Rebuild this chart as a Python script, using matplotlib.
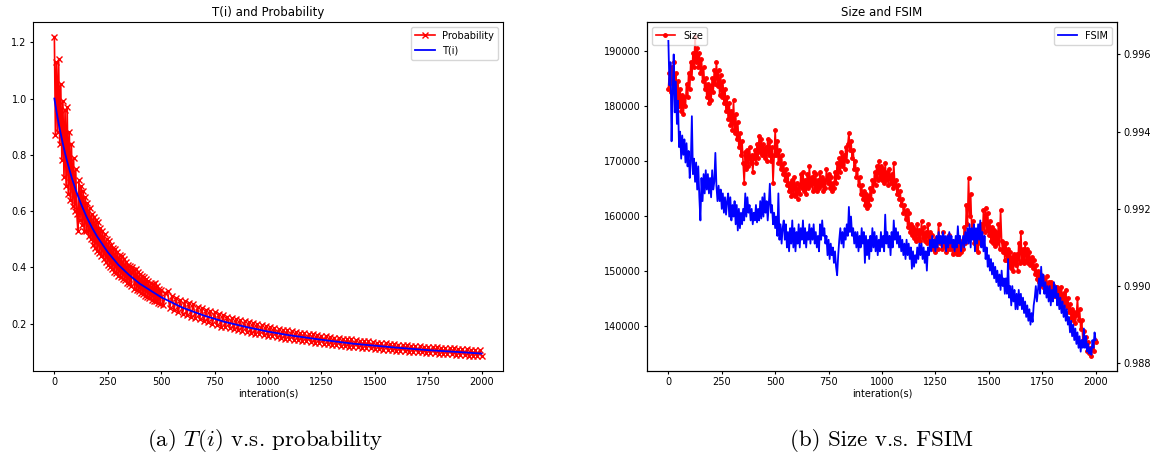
import numpy as np
import matplotlib
matplotlib.use("Agg")
import matplotlib.pyplot as plt

plt.rcParams['mathtext.fontset'] = 'cm'

# T(i) curve, read at a few iterations
t_iter = [0, 10, 20, 30, 40, 50, 60, 80, 100, 125, 150, 175, 200, 250, 300, 350, 400,
          500, 600, 700, 800, 900, 1000, 1100, 1250, 1400, 1500, 1600, 1750, 1900, 2000]
t_vals = [1.000, 0.954, 0.912, 0.874, 0.839, 0.806, 0.776, 0.722, 0.675, 0.625, 0.581,
          0.543, 0.510, 0.454, 0.409, 0.373, 0.342, 0.294, 0.257, 0.229, 0.206, 0.188,
          0.172, 0.159, 0.143, 0.129, 0.122, 0.115, 0.106, 0.099, 0.094]

# probability, every 5 iterations up to 495
prob_early = [
    1.22, 0.87, 1.13, 0.88, 1.14, 0.84, 1.05, 0.78, 0.99, 0.72,
    0.96, 0.69, 0.97, 0.66, 0.88, 0.64, 0.84, 0.62, 0.79, 0.60,
    0.75, 0.59, 0.53, 0.71, 0.57, 0.69, 0.55, 0.67, 0.53, 0.65,
    0.53, 0.63, 0.51, 0.61, 0.50, 0.59, 0.48, 0.58, 0.47, 0.57,
    0.46, 0.56, 0.45, 0.54, 0.44, 0.53, 0.43, 0.52, 0.42, 0.50,
    0.41, 0.495, 0.40, 0.48, 0.395, 0.47, 0.385, 0.465, 0.38, 0.455,
    0.37, 0.445, 0.365, 0.44, 0.36, 0.43, 0.355, 0.42, 0.345, 0.41,
    0.34, 0.405, 0.335, 0.40, 0.39, 0.325, 0.395, 0.32, 0.385, 0.315,
    0.375, 0.31, 0.37, 0.305, 0.365, 0.30, 0.36, 0.295, 0.35, 0.29,
    0.345, 0.285, 0.34, 0.28, 0.345, 0.28, 0.335, 0.275, 0.325, 0.27]
# probability, every 10 iterations from 500
prob_late = [
    0.32, 0.265, 0.31, 0.315, 0.255, 0.30, 0.25, 0.29, 0.24, 0.285,
    0.235, 0.28, 0.23, 0.275, 0.225, 0.27, 0.22, 0.26, 0.215, 0.255,
    0.21, 0.25, 0.205, 0.245, 0.20, 0.24, 0.195, 0.235, 0.19, 0.23,
    0.187, 0.225, 0.185, 0.22, 0.18, 0.215, 0.178, 0.212, 0.173, 0.208,
    0.17, 0.205, 0.167, 0.202, 0.164, 0.198, 0.162, 0.195, 0.159, 0.191,
    0.157, 0.188, 0.155, 0.185, 0.152, 0.182, 0.15, 0.179, 0.147, 0.176,
    0.145, 0.174, 0.143, 0.171, 0.141, 0.168, 0.139, 0.166, 0.137, 0.164,
    0.135, 0.162, 0.133, 0.16, 0.131, 0.158, 0.129, 0.156, 0.128, 0.154,
    0.126, 0.151, 0.124, 0.149, 0.122, 0.147, 0.121, 0.146, 0.119, 0.144,
    0.118, 0.142, 0.117, 0.14, 0.115, 0.138, 0.114, 0.137, 0.112, 0.135,
    0.111, 0.133, 0.109, 0.132, 0.108, 0.13, 0.107, 0.129, 0.105, 0.128,
    0.104, 0.126, 0.103, 0.125, 0.102, 0.124, 0.101, 0.122, 0.10, 0.121,
    0.099, 0.12, 0.098, 0.119, 0.097, 0.118, 0.096, 0.117, 0.095, 0.116,
    0.094, 0.115, 0.093, 0.114, 0.092, 0.113, 0.091, 0.112, 0.09, 0.111,
    0.089, 0.11, 0.088, 0.109, 0.087, 0.108, 0.086, 0.107, 0.085, 0.106,
    0.084]

# size and FSIM, every 5 iterations
size_vals = [
    183000, 186000, 182500, 187000, 184000, 188000,
    183500, 186000, 181000, 184500, 180000, 183000, 179000, 182000, 178500, 181500,
    180000, 184000, 181500, 186000, 183000, 188000, 185000, 189500, 187000, 192500,
    188000, 190500, 187000, 189500, 186000, 188500, 184500, 187000, 183000, 185000,
    181500, 184000, 180500, 183500, 181000, 185000, 182500, 186500, 184000, 188000,
    183500, 186500, 182000, 185500, 181500, 184500, 180500, 183000, 179000, 181500,
    177500, 180500, 176500, 179000, 175500, 181000, 175000, 178500, 174000, 177000,
    172500, 175000, 171000, 173500, 169500, 166000, 171500, 168500, 172000, 169000,
    172500, 169500, 171000, 168000, 170500, 172000, 169500, 173000, 170500, 174500,
    171500, 174000, 171000, 173000, 170500, 172500, 170000, 174000, 171000, 173500,
    170000, 172500, 166000, 171000, 175500, 171000, 173500, 169500, 172000, 168500,
    171000, 167500, 169500, 166500, 168500, 165500, 167500, 164500, 166000, 163500,
    166500, 164000, 167000, 163500, 166000, 163000, 165500, 164000, 167500, 165000,
    168000, 164500, 166500, 164000, 167500, 165000, 169000, 165500, 167000, 164500,
    168000, 165000, 167500, 164500, 166500, 165000, 168000, 165500, 167000, 164500,
    166500, 165000, 168500, 166000, 167500, 165000, 167000, 164500, 166000, 165000,
    168000, 166000, 169500, 167000, 170500, 168000, 171500, 169000, 171000, 168500,
    172500, 170000, 173000, 175000, 172000, 173500, 170500, 172000, 168500, 170000,
    167000, 168500, 165500, 167000, 164000, 165500, 163000, 164500, 162000, 164000,
    161500, 163500, 162000, 165000, 163000, 166500, 164500, 168000, 165500, 169000,
    166500, 170000, 167000, 169000, 166500, 168500, 166000, 169500, 166500, 168000,
    165500, 168500, 166000, 167500, 165000, 169500, 165500, 166500, 164000, 165500,
    163000, 164500, 162000, 163000, 160500, 162000, 159500, 161000, 158000, 160500,
    157000, 158500, 156500, 158000, 156000, 157500, 155500, 158500, 156000, 157500,
    155500, 159000, 156000, 158000, 155500, 157000, 155000, 158500, 155500, 157000,
    154500, 156500, 154000, 155500, 153500, 156000, 154000, 158500, 155000, 156000,
    154000, 157000, 154500, 156000, 153500, 155500, 154000, 156500, 154000, 155000,
    153000, 155000, 153500, 155500, 153000, 154500, 153000, 155500, 153500, 155000,
    154000, 158000, 155000, 162000, 158500, 166800, 160000, 164000, 157500, 159000,
    155000, 157000, 154000, 156500, 153500, 157000, 155000, 158500, 156000, 161000,
    157000, 161500, 157500, 160500, 156500, 159000, 155500, 158000, 155000, 157500,
    154500, 157000, 155000, 158500, 154000, 161000, 155500, 153500, 155000, 152000,
    155000, 152000, 154000, 151000, 153500, 150500, 152500, 150000, 153000, 151000,
    153000, 150000, 155000, 151500, 157000, 152000, 154000, 151500, 155000, 152000,
    154000, 151500, 153500, 151000, 152500, 150500, 152000, 149500, 151000, 148500,
    150000, 148000, 149500, 147500, 149000, 147000, 148500, 147000, 149000, 146500,
    148000, 146500, 148000, 146000, 147500, 145500, 147000, 145500, 147000, 145000,
    146500, 145000, 147000, 144500, 146000, 144000, 146500, 143500, 145000, 142500,
    144000, 141500, 143000, 141000, 142500, 140500, 142000, 145000, 141000, 143000,
    139500, 141000, 137500, 139000, 136500, 138000, 135500, 137000, 135000, 136000,
    134500, 136000, 135500, 137500, 137000]

fsim_vals = [
    0.99635, 0.99520, 0.99580, 0.99375, 0.99500, 0.99600,
    0.99450, 0.99530, 0.99420, 0.99480, 0.99360, 0.99400, 0.99330, 0.99390, 0.99340, 0.99380,
    0.99320, 0.99370, 0.99310, 0.99350, 0.99280, 0.99320, 0.99440, 0.99290, 0.99330, 0.99270,
    0.99320, 0.99250, 0.99310, 0.99230, 0.99170, 0.99280, 0.99220, 0.99290, 0.99240, 0.99300,
    0.99250, 0.99290, 0.99240, 0.99280, 0.99230, 0.99300, 0.99250, 0.99270, 0.99345, 0.99260,
    0.99220, 0.99260, 0.99220, 0.99250, 0.99200, 0.99240, 0.99190, 0.99230, 0.99185, 0.99220,
    0.99240, 0.99180, 0.99230, 0.99170, 0.99210, 0.99180, 0.99220, 0.99160, 0.99210, 0.99144,
    0.99200, 0.99150, 0.99190, 0.99160, 0.99200, 0.99170, 0.99240, 0.99180, 0.99230, 0.99190,
    0.99210, 0.99170, 0.99200, 0.99160, 0.99190, 0.99170, 0.99210, 0.99165, 0.99200, 0.99170,
    0.99220, 0.99175, 0.99230, 0.99180, 0.99240, 0.99190, 0.99220, 0.99170, 0.99210, 0.99265,
    0.99190, 0.99210, 0.99160, 0.99190, 0.99150, 0.99180, 0.99130, 0.99240, 0.99120, 0.99160,
    0.99110, 0.99150, 0.99170, 0.99120, 0.99160, 0.99100, 0.99140, 0.99090, 0.99150, 0.99110,
    0.99170, 0.99100, 0.99150, 0.99090, 0.99140, 0.99110, 0.99160, 0.99100, 0.99150, 0.99120,
    0.99170, 0.99110, 0.99150, 0.99100, 0.99140, 0.99120, 0.99160, 0.99110, 0.99150, 0.99120,
    0.99160, 0.99110, 0.99140, 0.99100, 0.99130, 0.99090, 0.99160, 0.99120, 0.99170, 0.99130,
    0.99150, 0.99110, 0.99130, 0.99080, 0.99120, 0.99070, 0.99110, 0.99080, 0.99100, 0.99060,
    0.99090, 0.99050, 0.99028, 0.99080, 0.99120, 0.99150, 0.99110, 0.99140, 0.99100, 0.99150,
    0.99120, 0.99160, 0.99130, 0.99205, 0.99140, 0.99180, 0.99130, 0.99150, 0.99110, 0.99140,
    0.99100, 0.99140, 0.99090, 0.99130, 0.99100, 0.99150, 0.99110, 0.99140, 0.99060, 0.99130,
    0.99080, 0.99120, 0.99070, 0.99130, 0.99090, 0.99150, 0.99100, 0.99140, 0.99090, 0.99130,
    0.99080, 0.99120, 0.99090, 0.99140, 0.99100, 0.99130, 0.99090, 0.99185, 0.99110, 0.99140,
    0.99100, 0.99130, 0.99080, 0.99140, 0.99100, 0.99170, 0.99120, 0.99150, 0.99110, 0.99140,
    0.99100, 0.99130, 0.99090, 0.99120, 0.99080, 0.99110, 0.99070, 0.99120, 0.99080, 0.99110,
    0.99070, 0.99100, 0.99045, 0.99090, 0.99050, 0.99080, 0.99060, 0.99100, 0.99070, 0.99110,
    0.99080, 0.99110, 0.99070, 0.99100, 0.99060, 0.99090, 0.99040, 0.99100, 0.99080, 0.99120,
    0.99090, 0.99130, 0.99100, 0.99120, 0.99090, 0.99130, 0.99100, 0.99140, 0.99110, 0.99130,
    0.99100, 0.99140, 0.99110, 0.99130, 0.99090, 0.99130, 0.99100, 0.99140, 0.99110, 0.99130,
    0.99100, 0.99120, 0.99090, 0.99130, 0.99100, 0.99155, 0.99110, 0.99130, 0.99090, 0.99110,
    0.99130, 0.99100, 0.99140, 0.99110, 0.99150, 0.99110, 0.99160, 0.99100, 0.99150, 0.99120,
    0.99160, 0.99090, 0.99150, 0.99110, 0.99160, 0.99120, 0.99170, 0.99100, 0.99140, 0.99090,
    0.99130, 0.99070, 0.99100, 0.99050, 0.99080, 0.99040, 0.99070, 0.99030, 0.99060, 0.99020,
    0.99050, 0.99010, 0.99040, 0.99000, 0.99030, 0.98990, 0.99040, 0.99000, 0.99020, 0.98980,
    0.99020, 0.98980, 0.99070, 0.98970, 0.99000, 0.98950, 0.99000, 0.98960, 0.98990, 0.98940,
    0.98980, 0.98940, 0.98990, 0.98950, 0.98980, 0.98940, 0.98970, 0.98930, 0.98960, 0.98920,
    0.98950, 0.98910, 0.98940, 0.98900, 0.98930, 0.98907, 0.98950, 0.98970, 0.99000, 0.98960,
    0.98990, 0.99020, 0.98980, 0.99050, 0.99000, 0.99030, 0.98980, 0.99010, 0.98970, 0.99000,
    0.98960, 0.99000, 0.98950, 0.98990, 0.98960, 0.99010, 0.98970, 0.99000, 0.98950, 0.98980,
    0.98940, 0.98970, 0.98930, 0.98960, 0.98920, 0.98950, 0.98910, 0.98940, 0.98900, 0.98920,
    0.98880, 0.98910, 0.98870, 0.98900, 0.98860, 0.98890, 0.98850, 0.98880, 0.98840, 0.98870,
    0.98830, 0.98860, 0.98840, 0.98890, 0.98840, 0.98870, 0.98830, 0.98850, 0.98825, 0.98840,
    0.98822, 0.98860, 0.98840, 0.98880, 0.98860]

prob_iter = np.concatenate([np.arange(0, 500, 5), np.arange(500, 2001, 10)])
prob_vals = prob_early + prob_late
step_iter = np.arange(0, 2001, 5)

fig = plt.figure(figsize=(11.67, 4.62), dpi=100)
W, H = 1167, 462
ax1 = fig.add_axes([33 / W, 91 / H, 470 / W, 349 / H])
ax2 = fig.add_axes([647 / W, 91 / H, 470 / W, 349 / H])

# left plot
ax1.plot(prob_iter, prob_vals, color='red', marker='x', markersize=5,
         markeredgewidth=1, linewidth=1.2, label='Probability')
ax1.plot(t_iter, t_vals, color='blue', linewidth=1.3, label='T(i)')
ax1.set_xlim(-100, 2100)
ax1.set_ylim(0.032, 1.272)
ax1.set_title('T(i) and Probability', fontsize=8.5, pad=4)
ax1.set_xlabel('interation(s)', fontsize=7, labelpad=1)
ax1.tick_params(labelsize=7, length=2.5, pad=2)
ax1.legend(loc='upper right', fontsize=7)

# right plot
ax2.plot(step_iter, size_vals, color='red', marker='o', markersize=2.5,
         linewidth=1.2, label='Size')
ax2.set_xlim(-100, 2100)
ax2.set_ylim(131800, 195200)
ax2.set_title('Size and FSIM', fontsize=8.5, pad=4)
ax2.set_xlabel('interation(s)', fontsize=7, labelpad=1)
ax2.tick_params(labelsize=7, length=2.5, pad=2)
ax2.legend(loc='upper left', fontsize=7)

ax3 = ax2.twinx()
ax3.plot(step_iter, fsim_vals, color='blue', linewidth=1.3, label='FSIM')
ax3.set_ylim(0.9878, 0.99684)
ax3.set_yticks([0.988, 0.990, 0.992, 0.994, 0.996])
ax3.tick_params(labelsize=7, length=2.5, pad=2)
ax3.legend(loc='upper right', fontsize=7)

# captions
fig.text(265 / W, 1 - 441 / H, '(a) $T(i)$ v.s. probability', ha='center', va='center',
         fontsize=16.5, family='cmr10')
fig.text(882 / W, 1 - 441 / H, '(b) Size v.s. FSIM', ha='center', va='center',
         fontsize=16.5, family='cmr10')

fig.savefig('out.png', dpi=100)
